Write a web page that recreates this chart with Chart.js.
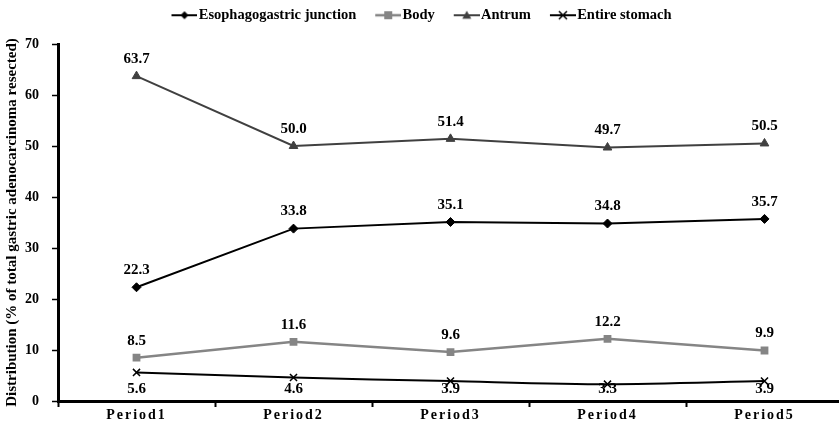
<!DOCTYPE html>
<html>
<head>
<meta charset="utf-8">
<script src="https://cdn.jsdelivr.net/npm/chart.js@4/dist/chart.umd.min.js"></script>
<style>
  html, body { margin: 0; padding: 0; background: #fff; overflow: hidden; }
</style>
</head>
<body>
<canvas id="chart" width="843" height="428"></canvas>
<script>
const periods = ['Period1', 'Period2', 'Period3', 'Period4', 'Period5'];
const esophagogastric = [22.3, 33.8, 35.1, 34.8, 35.7];
const body = [8.5, 11.6, 9.6, 12.2, 9.9];
const antrum = [63.7, 50.0, 51.4, 49.7, 50.5];
const entireStomach = [5.6, 4.6, 3.9, 3.3, 3.9];
const yTicks = [0, 10, 20, 30, 40, 50, 60, 70];

Chart.defaults.font.family = '"Liberation Serif", "Times New Roman", serif';
Chart.defaults.color = '#000';

// little line + marker pictures for the legend
function legendIcon(color, style, lw) {
  const c = document.createElement('canvas');
  c.width = 32; c.height = 14;
  const g = c.getContext('2d');
  g.strokeStyle = color; g.fillStyle = color; g.lineWidth = lw;
  g.beginPath(); g.moveTo(6, 7); g.lineTo(32, 7); g.stroke();
  const cx = 19, cy = 7;
  g.beginPath();
  if (style === 'diamond') {
    g.moveTo(cx, cy - 4); g.lineTo(cx + 4, cy); g.lineTo(cx, cy + 4); g.lineTo(cx - 4, cy); g.closePath(); g.fill();
  } else if (style === 'square') {
    g.fillRect(cx - 4, cy - 4, 8, 8);
  } else if (style === 'triangle') {
    g.moveTo(cx, cy - 4.5); g.lineTo(cx + 4.5, cy + 3.5); g.lineTo(cx - 4.5, cy + 3.5); g.closePath(); g.fill();
  } else {
    g.lineWidth = 1.5;
    g.moveTo(cx - 4, cy - 4); g.lineTo(cx + 4, cy + 4);
    g.moveTo(cx + 4, cy - 4); g.lineTo(cx - 4, cy + 4); g.stroke();
  }
  return c;
}

const icons = [
  legendIcon('#000', 'diamond', 2),
  legendIcon('#858585', 'square', 2.5),
  legendIcon('#404040', 'triangle', 2),
  legendIcon('#000', 'cross', 2)
];

const valueLabels = {
  id: 'valueLabels',
  beforeLayout(chart) {
    // make the legend box taller so the plot starts lower
    const lg = chart.legend;
    if (lg && !lg._tall) {
      const fit = lg.fit;
      lg.fit = function () { fit.call(this); this.height = 55; };
      lg._tall = true;
    }
  },
  afterDatasetsDraw(chart) {
    const ctx = chart.ctx;
    const bottom = chart.chartArea.bottom;
    ctx.save();
    ctx.font = 'bold 15px "Liberation Serif"';
    ctx.fillStyle = '#000';
    ctx.textAlign = 'center';
    ctx.textBaseline = 'middle';
    chart.data.datasets.forEach((ds, i) => {
      chart.getDatasetMeta(i).data.forEach((pt, j) => {
        let y = pt.y + ds.labelOffset;
        if (y > bottom - 12) y = bottom - 12;
        ctx.fillText(ds.data[j].toFixed(1), pt.x, y);
      });
    });
    ctx.restore();
    // x labels are drawn after this (ticks z: 1) and are spaced out
    ctx.letterSpacing = '2px';
  },
  afterDraw(chart) {
    chart.ctx.letterSpacing = '0px';
  }
};

new Chart(document.getElementById('chart'), {
  type: 'line',
  data: {
    labels: periods,
    datasets: [
      { label: 'Esophagogastric junction', data: esophagogastric, borderColor: '#000', backgroundColor: '#000',
        borderWidth: 2, pointStyle: 'rectRot', pointRadius: 4.5, pointBorderWidth: 1, labelOffset: -17 },
      { label: 'Body', data: body, borderColor: '#858585', backgroundColor: '#858585',
        borderWidth: 2.5, pointStyle: 'rect', pointRadius: 5.5, pointBorderWidth: 0, labelOffset: -17 },
      { label: 'Antrum', data: antrum, borderColor: '#404040', backgroundColor: '#404040',
        borderWidth: 2, pointStyle: 'triangle', pointRadius: 5, pointBorderWidth: 1, labelOffset: -17 },
      { label: 'Entire stomach', data: entireStomach, borderColor: '#000', backgroundColor: '#000',
        borderWidth: 2, pointStyle: 'crossRot', pointRadius: 5, pointBorderWidth: 1.5, tension: 0.3, labelOffset: 18 }
    ]
  },
  options: {
    responsive: false,
    animation: false,
    layout: { autoPadding: false, padding: { top: -11, right: 0, left: 0, bottom: 0 } },
    plugins: {
      tooltip: { enabled: false },
      legend: {
        position: 'top',
        labels: {
          usePointStyle: true,
          pointStyleWidth: 20,
          padding: 19,
          color: '#000',
          font: { size: 14.5, weight: 'bold' },
          generateLabels(chart) {
            return chart.data.datasets.map((ds, i) => ({
              text: ds.label, pointStyle: icons[i], fillStyle: ds.borderColor,
              strokeStyle: ds.borderColor, lineWidth: 0, hidden: false, datasetIndex: i, fontColor: '#000'
            }));
          }
        }
      }
    },
    scales: {
      x: {
        offset: true,
        afterFit(s) { s.height = 27; s.paddingLeft = 0; s.paddingRight = 0; },
        ticks: { z: 1, color: '#000', font: { size: 14, weight: 'bold' }, padding: 0, maxRotation: 0 },
        grid: { drawOnChartArea: false, offset: true, tickLength: 6, tickColor: '#000', tickWidth: 2 },
        border: { color: '#000', width: 3 }
      },
      y: {
        min: 0,
        max: 70,
        afterFit(s) { s.width = 58; },
        afterBuildTicks(s) { s.ticks = yTicks.map(v => ({ value: v })); },
        ticks: { color: '#000', font: { size: 14, weight: 'bold' }, padding: 13 },
        grid: { drawOnChartArea: false, tickLength: 6, tickColor: '#000', tickWidth: 1.5 },
        border: { color: '#000', width: 3 },
        title: {
          display: true,
          text: 'Distribution (% of total gastric adenocarcinoma resected)',
          color: '#000',
          font: { size: 15, weight: 'bold' },
          padding: { top: 3, bottom: 0 }
        }
      }
    }
  },
  plugins: [valueLabels]
});
</script>
</body>
</html>
